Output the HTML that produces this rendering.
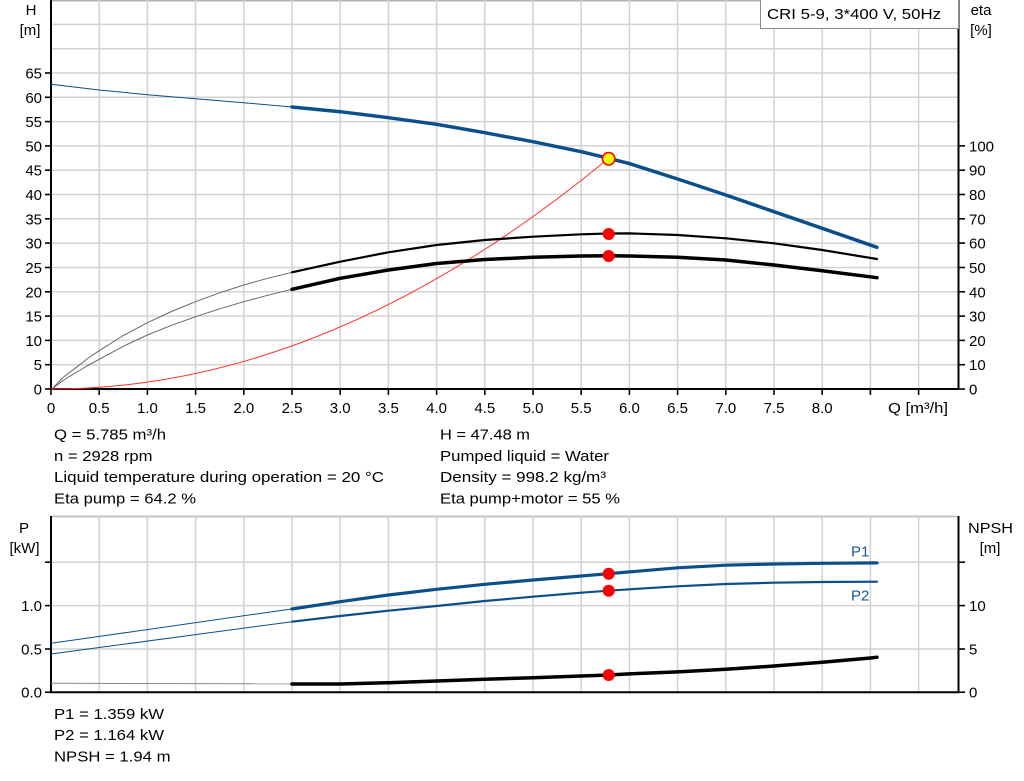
<!DOCTYPE html>
<html><head><meta charset="utf-8"><style>
html,body{margin:0;padding:0;background:#fff;}
svg{display:block;}
text{font-family:"Liberation Sans",Arial,sans-serif;font-size:15px;fill:#000;}
</style></head><body>
<svg width="1024" height="781" viewBox="0 0 1024 781" xmlns="http://www.w3.org/2000/svg">
<rect width="1024" height="781" fill="#fff"/>
<!-- TOP CHART GRID -->
<g stroke="#d2d2d2" stroke-width="1.5">
<line x1="51" y1="0.8" x2="958" y2="0.8" stroke="#b0b0b0"/>
<line x1="51" y1="24.4" x2="958" y2="24.4"/>
<line x1="51" y1="48.7" x2="958" y2="48.7"/>
<line x1="51" y1="73" x2="958" y2="73"/>
<line x1="51" y1="97.3" x2="958" y2="97.3"/>
<line x1="51" y1="121.6" x2="958" y2="121.6"/>
<line x1="51" y1="145.9" x2="958" y2="145.9"/>
<line x1="51" y1="170.2" x2="958" y2="170.2"/>
<line x1="51" y1="194.5" x2="958" y2="194.5"/>
<line x1="51" y1="218.8" x2="958" y2="218.8"/>
<line x1="51" y1="243.1" x2="958" y2="243.1"/>
<line x1="51" y1="267.5" x2="958" y2="267.5"/>
<line x1="51" y1="291.8" x2="958" y2="291.8"/>
<line x1="51" y1="316.1" x2="958" y2="316.1"/>
<line x1="51" y1="340.4" x2="958" y2="340.4"/>
<line x1="51" y1="364.7" x2="958" y2="364.7"/>
<line x1="99.2" y1="0" x2="99.2" y2="389"/>
<line x1="147.4" y1="0" x2="147.4" y2="389"/>
<line x1="195.6" y1="0" x2="195.6" y2="389"/>
<line x1="243.8" y1="0" x2="243.8" y2="389"/>
<line x1="292" y1="0" x2="292" y2="389"/>
<line x1="340.2" y1="0" x2="340.2" y2="389"/>
<line x1="388.4" y1="0" x2="388.4" y2="389"/>
<line x1="436.6" y1="0" x2="436.6" y2="389"/>
<line x1="484.8" y1="0" x2="484.8" y2="389"/>
<line x1="533" y1="0" x2="533" y2="389"/>
<line x1="581.2" y1="0" x2="581.2" y2="389"/>
<line x1="629.4" y1="0" x2="629.4" y2="389"/>
<line x1="677.6" y1="0" x2="677.6" y2="389"/>
<line x1="725.8" y1="0" x2="725.8" y2="389"/>
<line x1="774" y1="0" x2="774" y2="389"/>
<line x1="822.2" y1="0" x2="822.2" y2="389"/>
<line x1="870.4" y1="0" x2="870.4" y2="389"/>
<line x1="918.6" y1="0" x2="918.6" y2="389"/>
</g>
<!-- top axes -->
<g stroke="#000" stroke-width="2">
<line x1="51" y1="0" x2="51" y2="390"/>
<line x1="958.5" y1="0" x2="958.5" y2="390"/>
<line x1="50" y1="389" x2="959.5" y2="389"/>
</g>
<g stroke="#000" stroke-width="1.6">
<line x1="45" y1="73" x2="51" y2="73"/><line x1="45" y1="97.3" x2="51" y2="97.3"/><line x1="45" y1="121.6" x2="51" y2="121.6"/><line x1="45" y1="145.9" x2="51" y2="145.9"/><line x1="45" y1="170.2" x2="51" y2="170.2"/><line x1="45" y1="194.5" x2="51" y2="194.5"/><line x1="45" y1="218.8" x2="51" y2="218.8"/><line x1="45" y1="243.1" x2="51" y2="243.1"/><line x1="45" y1="267.5" x2="51" y2="267.5"/><line x1="45" y1="291.8" x2="51" y2="291.8"/><line x1="45" y1="316.1" x2="51" y2="316.1"/><line x1="45" y1="340.4" x2="51" y2="340.4"/><line x1="45" y1="364.7" x2="51" y2="364.7"/><line x1="45" y1="389" x2="51" y2="389"/>
<line x1="958" y1="145.9" x2="965" y2="145.9"/><line x1="958" y1="170.2" x2="965" y2="170.2"/><line x1="958" y1="194.5" x2="965" y2="194.5"/><line x1="958" y1="218.8" x2="965" y2="218.8"/><line x1="958" y1="243.1" x2="965" y2="243.1"/><line x1="958" y1="267.5" x2="965" y2="267.5"/><line x1="958" y1="291.8" x2="965" y2="291.8"/><line x1="958" y1="316.1" x2="965" y2="316.1"/><line x1="958" y1="340.4" x2="965" y2="340.4"/><line x1="958" y1="364.7" x2="965" y2="364.7"/><line x1="958" y1="389" x2="965" y2="389"/>
<line x1="51" y1="389" x2="51" y2="395"/><line x1="99.2" y1="389" x2="99.2" y2="395"/><line x1="147.4" y1="389" x2="147.4" y2="395"/><line x1="195.6" y1="389" x2="195.6" y2="395"/><line x1="243.8" y1="389" x2="243.8" y2="395"/><line x1="292" y1="389" x2="292" y2="395"/><line x1="340.2" y1="389" x2="340.2" y2="395"/><line x1="388.4" y1="389" x2="388.4" y2="395"/><line x1="436.6" y1="389" x2="436.6" y2="395"/><line x1="484.8" y1="389" x2="484.8" y2="395"/><line x1="533" y1="389" x2="533" y2="395"/><line x1="581.2" y1="389" x2="581.2" y2="395"/><line x1="629.4" y1="389" x2="629.4" y2="395"/><line x1="677.6" y1="389" x2="677.6" y2="395"/><line x1="725.8" y1="389" x2="725.8" y2="395"/><line x1="774" y1="389" x2="774" y2="395"/><line x1="822.2" y1="389" x2="822.2" y2="395"/><line x1="870.4" y1="389" x2="870.4" y2="395"/><line x1="918.6" y1="389" x2="918.6" y2="395"/>
</g>
<!-- left labels -->
<g text-anchor="end" style="font-size:15.5px">
<text x="42" y="78.5">65</text><text x="42" y="102.8">60</text><text x="42" y="127.1">55</text><text x="42" y="151.4">50</text><text x="42" y="175.7">45</text><text x="42" y="200">40</text><text x="42" y="224.3">35</text><text x="42" y="248.6">30</text><text x="42" y="273">25</text><text x="42" y="297.3">20</text><text x="42" y="321.6">15</text><text x="42" y="345.9">10</text><text x="42" y="370.2">5</text><text x="42" y="394.5">0</text>
</g>
<g text-anchor="start" style="font-size:15.5px">
<text x="969" y="151.4">100</text><text x="969" y="175.7">90</text><text x="969" y="200">80</text><text x="969" y="224.3">70</text><text x="969" y="248.6">60</text><text x="969" y="273">50</text><text x="969" y="297.3">40</text><text x="969" y="321.6">30</text><text x="969" y="345.9">20</text><text x="969" y="370.2">10</text><text x="969" y="394.5">0</text>
</g>
<g text-anchor="middle" style="font-size:15.5px">
<text x="51" y="413">0</text><text x="99.2" y="413">0.5</text><text x="147.4" y="413">1.0</text><text x="195.6" y="413">1.5</text><text x="243.8" y="413">2.0</text><text x="292" y="413">2.5</text><text x="340.2" y="413">3.0</text><text x="388.4" y="413">3.5</text><text x="436.6" y="413">4.0</text><text x="484.8" y="413">4.5</text><text x="533" y="413">5.0</text><text x="581.2" y="413">5.5</text><text x="629.4" y="413">6.0</text><text x="677.6" y="413">6.5</text><text x="725.8" y="413">7.0</text><text x="774" y="413">7.5</text><text x="822.2" y="413">8.0</text>
</g>
<text x="888" y="413" textLength="60" lengthAdjust="spacingAndGlyphs">Q [m³/h]</text>
<g text-anchor="middle">
<text x="31" y="15">H</text><text x="30" y="35">[m]</text>
<text x="981" y="15">eta</text><text x="981" y="35">[%]</text>
</g>
<!-- legend box -->
<rect x="760.5" y="-1" width="198" height="29.5" fill="#fff" stroke="#8a8a8a" stroke-width="1"/>
<text x="767" y="19" textLength="174" lengthAdjust="spacingAndGlyphs">CRI 5-9, 3*400 V, 50Hz</text>

<!-- top curves -->
<path d="M51,389 Q329.8,389 608.7,158.3" fill="none" stroke="#ff3030" stroke-width="1"/>
<polyline fill="none" stroke="#666" stroke-width="1" stroke-linejoin="round" points="52,389 63,377.5 75.1,368.3 87,359 99.2,350.7 123.3,335.5 147.4,322.7 171.5,311.5 195.6,301.7 219.7,292.8 243.8,285 268,278.2 292,272.3"/>
<polyline fill="none" stroke="#666" stroke-width="1" stroke-linejoin="round" points="52,389 63,380.5 75.1,373 87,366 99.2,359.3 123.3,346.3 147.4,335 171.5,325.3 195.6,316.7 219.7,308.8 243.8,301.7 268,295.2 292,289.3"/>
<polyline fill="none" stroke="#000" stroke-width="2.2" stroke-linejoin="round" stroke-linecap="round" points="292,272.3 340.2,261.7 388.4,252.3 436.6,245 484.8,240 533,236.7 581.2,234.3 608.7,233.5 629.4,233.4 677.6,235 725.8,238.3 774,243.3 822.2,250 877,259"/>
<polyline fill="none" stroke="#000" stroke-width="3.5" stroke-linejoin="round" stroke-linecap="round" points="292,289.3 340.2,278.3 388.4,270 436.6,263.5 484.8,259.5 533,257.3 581.2,256 608.7,255.8 629.4,256 677.6,257.3 725.8,260 774,265 822.2,270.7 877,277.7"/>
<polyline fill="none" stroke="#0b4f8a" stroke-width="1" points="51,84.3 99.2,90 147.4,94.7 195.6,98.7 243.8,102.7 292,107"/>
<polyline fill="none" stroke="#0b4f8a" stroke-width="3.5" stroke-linejoin="round" stroke-linecap="round" points="292,107 340.2,111.7 388.4,117.7 436.6,124.3 484.8,132.7 533,141.7 581.2,151.7 608.7,158.3 629.4,163.6 677.6,179 725.8,195 774,211.7 822.2,228.3 877,247.3"/>
<circle cx="608.7" cy="234" r="6" fill="#ff0000"/>
<circle cx="608.7" cy="256" r="6" fill="#ff0000"/>
<circle cx="608.7" cy="158.8" r="6.2" fill="#ffff00" stroke="#ff0000" stroke-width="1.6"/>

<!-- info text -->
<g lengthAdjust="spacingAndGlyphs">
<text x="54" y="439.5" textLength="112" lengthAdjust="spacingAndGlyphs">Q = 5.785 m³/h</text>
<text x="54" y="461" textLength="98.5" lengthAdjust="spacingAndGlyphs">n = 2928 rpm</text>
<text x="54" y="482" textLength="330" lengthAdjust="spacingAndGlyphs">Liquid temperature during operation = 20 °C</text>
<text x="54" y="503.5" textLength="142" lengthAdjust="spacingAndGlyphs">Eta pump = 64.2 %</text>
<text x="440" y="439.5" textLength="90" lengthAdjust="spacingAndGlyphs">H = 47.48 m</text>
<text x="440" y="461" textLength="169" lengthAdjust="spacingAndGlyphs">Pumped liquid = Water</text>
<text x="440" y="482" textLength="166" lengthAdjust="spacingAndGlyphs">Density = 998.2 kg/m³</text>
<text x="440" y="503.5" textLength="180" lengthAdjust="spacingAndGlyphs">Eta pump+motor = 55 %</text>
</g>

<!-- BOTTOM CHART -->
<g stroke="#d2d2d2" stroke-width="1.5">
<line x1="51" y1="516.5" x2="958" y2="516.5" stroke="#c4c4c4" stroke-width="2"/>
<line x1="51" y1="562.2" x2="958" y2="562.2"/>
<line x1="51" y1="605.6" x2="958" y2="605.6"/>
<line x1="51" y1="649" x2="958" y2="649" stroke="#dedede" stroke-width="2"/>
<line x1="99.2" y1="516" x2="99.2" y2="692"/><line x1="147.4" y1="516" x2="147.4" y2="692"/><line x1="195.6" y1="516" x2="195.6" y2="692"/><line x1="243.8" y1="516" x2="243.8" y2="692"/><line x1="292" y1="516" x2="292" y2="692"/><line x1="340.2" y1="516" x2="340.2" y2="692"/><line x1="388.4" y1="516" x2="388.4" y2="692"/><line x1="436.6" y1="516" x2="436.6" y2="692"/><line x1="484.8" y1="516" x2="484.8" y2="692"/><line x1="533" y1="516" x2="533" y2="692"/><line x1="581.2" y1="516" x2="581.2" y2="692"/><line x1="629.4" y1="516" x2="629.4" y2="692"/><line x1="677.6" y1="516" x2="677.6" y2="692"/><line x1="725.8" y1="516" x2="725.8" y2="692"/><line x1="774" y1="516" x2="774" y2="692"/><line x1="822.2" y1="516" x2="822.2" y2="692"/><line x1="870.4" y1="516" x2="870.4" y2="692"/><line x1="918.6" y1="516" x2="918.6" y2="692"/>
</g>
<g stroke="#000" stroke-width="2">
<line x1="51" y1="516" x2="51" y2="693"/>
<line x1="958.5" y1="516" x2="958.5" y2="693"/>
<line x1="50" y1="692.2" x2="959.5" y2="692.2"/>
</g>
<g stroke="#000" stroke-width="1.6">
<line x1="45" y1="562.2" x2="51" y2="562.2"/><line x1="45" y1="605.6" x2="51" y2="605.6"/><line x1="45" y1="649" x2="51" y2="649"/><line x1="45" y1="692.2" x2="51" y2="692.2"/>
<line x1="958" y1="562.2" x2="965" y2="562.2"/><line x1="958" y1="605.6" x2="965" y2="605.6"/><line x1="958" y1="649" x2="965" y2="649"/><line x1="958" y1="692.2" x2="965" y2="692.2"/>
</g>
<g text-anchor="end" style="font-size:15.5px">
<text x="42" y="611">1.0</text><text x="42" y="654.5">0.5</text><text x="42" y="697.5">0.0</text>
</g>
<g text-anchor="start" style="font-size:15.5px">
<text x="969" y="611">10</text><text x="969" y="654.5">5</text><text x="969" y="697.5">0</text>
</g>
<g text-anchor="middle">
<text x="24" y="533">P</text><text x="24.5" y="553">[kW]</text>
<text x="990.5" y="533" textLength="45" lengthAdjust="spacingAndGlyphs">NPSH</text><text x="990" y="553">[m]</text>
</g>
<!-- bottom curves -->
<polyline fill="none" stroke="#0b4f8a" stroke-width="1" points="51,643.3 292,608.9"/>
<polyline fill="none" stroke="#0b4f8a" stroke-width="1" points="51,654 292,621.7"/>
<polyline fill="none" stroke="#888" stroke-width="1" points="51,683.3 292,683.8"/>
<polyline fill="none" stroke="#0b4f8a" stroke-width="3.2" stroke-linejoin="round" stroke-linecap="round" points="292,609 340.2,601.7 388.4,595 436.6,589.3 484.8,584.3 533,580 581.2,576 608.7,573.7 629.4,571.9 677.6,567.8 725.8,565.2 774,564 822.2,563.3 877,562.9"/>
<polyline fill="none" stroke="#0b4f8a" stroke-width="2.2" stroke-linejoin="round" stroke-linecap="round" points="292,621.7 340.2,616 388.4,610.7 436.6,606 484.8,601 533,596.7 581.2,592.7 608.7,590.7 629.4,589.3 677.6,586.3 725.8,584 774,582.7 822.2,582 877,581.7"/>
<polyline fill="none" stroke="#000" stroke-width="3.5" stroke-linejoin="round" stroke-linecap="round" points="292,684 340.2,684 388.4,682.7 436.6,681 484.8,679.3 533,677.7 581.2,676 608.7,675 629.4,673.9 677.6,671.9 725.8,669.3 774,666 822.2,662.3 870.4,658 877,657.2"/>
<circle cx="608.7" cy="573.7" r="6" fill="#ff0000"/>
<circle cx="608.7" cy="590.7" r="6" fill="#ff0000"/>
<circle cx="608.7" cy="675" r="6" fill="#ff0000"/>
<text x="851" y="556.5" style="fill:#155a96">P1</text>
<text x="851" y="600.5" style="fill:#155a96">P2</text>

<text x="54" y="719" textLength="110" lengthAdjust="spacingAndGlyphs">P1 = 1.359 kW</text>
<text x="54" y="740" textLength="110" lengthAdjust="spacingAndGlyphs">P2 = 1.164 kW</text>
<text x="54" y="761.5" textLength="116.5" lengthAdjust="spacingAndGlyphs">NPSH = 1.94 m</text>
</svg>
</body></html>
